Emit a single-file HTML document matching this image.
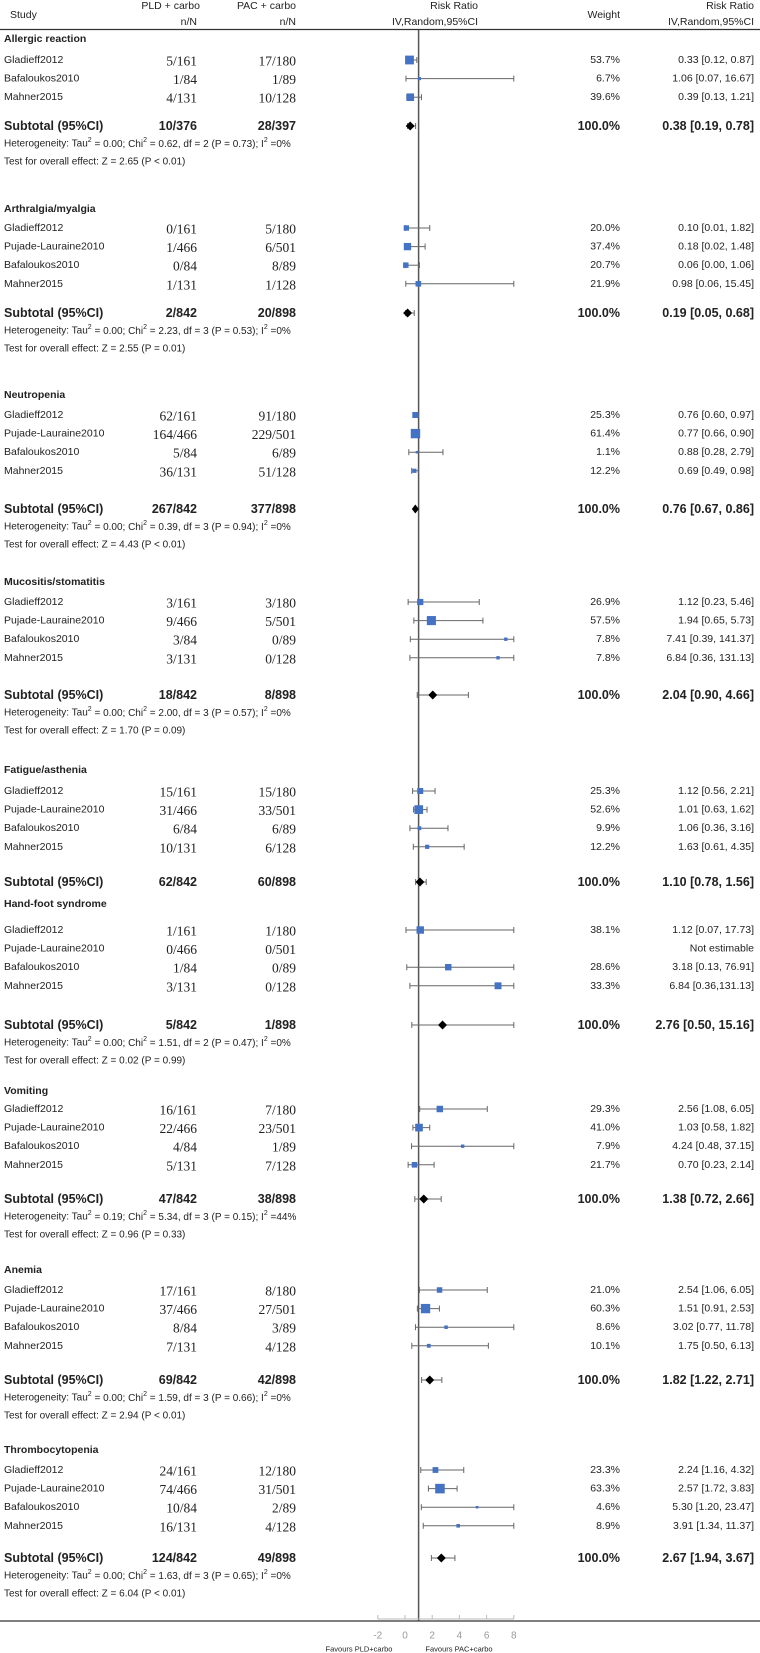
<!DOCTYPE html>
<html><head><meta charset="utf-8"><style>
html,body{margin:0;padding:0;background:#fff;}
svg{display:block;}
</style></head><body>
<svg id="plot" width="760" height="1653" xmlns="http://www.w3.org/2000/svg" font-family="Liberation Sans, Arial, sans-serif"></svg>
<script>
// ---- data ----
const groupNames = ["Allergic reaction","Arthralgia/myalgia","Neutropenia","Mucositis/stomatitis","Fatigue/asthenia","Hand-foot syndrome","Vomiting","Anemia","Thrombocytopenia"];
const studyNames = [
 ["Gladieff2012","Bafaloukos2010","Mahner2015"],
 ["Gladieff2012","Pujade-Lauraine2010","Bafaloukos2010","Mahner2015"],
 ["Gladieff2012","Pujade-Lauraine2010","Bafaloukos2010","Mahner2015"],
 ["Gladieff2012","Pujade-Lauraine2010","Bafaloukos2010","Mahner2015"],
 ["Gladieff2012","Pujade-Lauraine2010","Bafaloukos2010","Mahner2015"],
 ["Gladieff2012","Pujade-Lauraine2010","Bafaloukos2010","Mahner2015"],
 ["Gladieff2012","Pujade-Lauraine2010","Bafaloukos2010","Mahner2015"],
 ["Gladieff2012","Pujade-Lauraine2010","Bafaloukos2010","Mahner2015"],
 ["Gladieff2012","Pujade-Lauraine2010","Bafaloukos2010","Mahner2015"]];
const pldCounts = [
 ["5/161","1/84","4/131"],["0/161","1/466","0/84","1/131"],["62/161","164/466","5/84","36/131"],
 ["3/161","9/466","3/84","3/131"],["15/161","31/466","6/84","10/131"],["1/161","0/466","1/84","3/131"],
 ["16/161","22/466","4/84","5/131"],["17/161","37/466","8/84","7/131"],["24/161","74/466","10/84","16/131"]];
const pacCounts = [
 ["17/180","1/89","10/128"],["5/180","6/501","8/89","1/128"],["91/180","229/501","6/89","51/128"],
 ["3/180","5/501","0/89","0/128"],["15/180","33/501","6/89","6/128"],["1/180","0/501","0/89","0/128"],
 ["7/180","23/501","1/89","7/128"],["8/180","27/501","3/89","4/128"],["12/180","31/501","2/89","4/128"]];
const weights = [
 [53.7,6.7,39.6],[20.0,37.4,20.7,21.9],[25.3,61.4,1.1,12.2],[26.9,57.5,7.8,7.8],[25.3,52.6,9.9,12.2],
 [38.1,null,28.6,33.3],[29.3,41.0,7.9,21.7],[21.0,60.3,8.6,10.1],[23.3,63.3,4.6,8.9]];
const rr = [
 [0.33,1.06,0.39],[0.10,0.18,0.06,0.98],[0.76,0.77,0.88,0.69],[1.12,1.94,7.41,6.84],[1.12,1.01,1.06,1.63],
 [1.12,null,3.18,6.84],[2.56,1.03,4.24,0.70],[2.54,1.51,3.02,1.75],[2.24,2.57,5.30,3.91]];
const rrLo = [
 [0.12,0.07,0.13],[0.01,0.02,0.00,0.06],[0.60,0.66,0.28,0.49],[0.23,0.65,0.39,0.36],[0.56,0.63,0.36,0.61],
 [0.07,null,0.13,0.36],[1.08,0.58,0.48,0.23],[1.06,0.91,0.77,0.50],[1.16,1.72,1.20,1.34]];
const rrHi = [
 [0.87,16.67,1.21],[1.82,1.48,1.06,15.45],[0.97,0.90,2.79,0.98],[5.46,5.73,141.37,131.13],[2.21,1.62,3.16,4.35],
 [17.73,null,76.91,131.13],[6.05,1.82,37.15,2.14],[6.05,2.53,11.78,6.13],[4.32,3.83,23.47,11.37]];
const rrText = [
 ["0.33 [0.12, 0.87]","1.06 [0.07, 16.67]","0.39 [0.13, 1.21]"],
 ["0.10 [0.01, 1.82]","0.18 [0.02, 1.48]","0.06 [0.00, 1.06]","0.98 [0.06, 15.45]"],
 ["0.76 [0.60, 0.97]","0.77 [0.66, 0.90]","0.88 [0.28, 2.79]","0.69 [0.49, 0.98]"],
 ["1.12 [0.23, 5.46]","1.94 [0.65, 5.73]","7.41 [0.39, 141.37]","6.84 [0.36, 131.13]"],
 ["1.12 [0.56, 2.21]","1.01 [0.63, 1.62]","1.06 [0.36, 3.16]","1.63 [0.61, 4.35]"],
 ["1.12 [0.07, 17.73]","Not estimable","3.18 [0.13, 76.91]","6.84 [0.36,131.13]"],
 ["2.56 [1.08, 6.05]","1.03 [0.58, 1.82]","4.24 [0.48, 37.15]","0.70 [0.23, 2.14]"],
 ["2.54 [1.06, 6.05]","1.51 [0.91, 2.53]","3.02 [0.77, 11.78]","1.75 [0.50, 6.13]"],
 ["2.24 [1.16, 4.32]","2.57 [1.72, 3.83]","5.30 [1.20, 23.47]","3.91 [1.34, 11.37]"]];
const subPld = ["10/376","2/842","267/842","18/842","62/842","5/842","47/842","69/842","124/842"];
const subPac = ["28/397","20/898","377/898","8/898","60/898","1/898","38/898","42/898","49/898"];
const subRR = [0.38,0.19,0.76,2.04,1.10,2.76,1.38,1.82,2.67];
const subLo = [0.19,0.05,0.67,0.90,0.78,0.50,0.72,1.22,1.94];
const subHi = [0.78,0.68,0.86,4.66,1.56,15.16,2.66,2.71,3.67];
const subText = ["0.38 [0.19, 0.78]","0.19 [0.05, 0.68]","0.76 [0.67, 0.86]","2.04 [0.90, 4.66]","1.10 [0.78, 1.56]","2.76 [0.50, 15.16]","1.38 [0.72, 2.66]","1.82 [1.22, 2.71]","2.67 [1.94, 3.67]"];
const hetTau = ["0.00","0.00","0.00","0.00",null,"0.00","0.19","0.00","0.00"];
const hetChi = ["0.62, df = 2 (P = 0.73)","2.23, df = 3 (P = 0.53)","0.39, df = 3 (P = 0.94)","2.00, df = 3 (P = 0.57)",null,"1.51, df = 2 (P = 0.47)","5.34, df = 3 (P = 0.15)","1.59, df = 3 (P = 0.66)","1.63, df = 3 (P = 0.65)"];
const hetI2 = ["0%","0%","0%","0%",null,"0%","44%","0%","0%"];
const overallZ = ["Z = 2.65 (P < 0.01)","Z = 2.55 (P = 0.01)","Z = 4.43 (P < 0.01)","Z = 1.70 (P = 0.09)",null,"Z = 0.02 (P = 0.99)","Z = 0.96 (P = 0.33)","Z = 2.94 (P < 0.01)","Z = 6.04 (P < 0.01)"];
const axisTicks = [-2,0,2,4,6,8];

// ---- layout ----
const titleY = [39,209,395,582,770,904,1091,1270,1450];
const firstRowY = [60,228,415,602,791,930,1109,1290,1470];
const subY = [126,313,509,695,882,1025,1199,1380,1558];
const rowStep = 18.6;
const NS = "http://www.w3.org/2000/svg";
const svg = document.getElementById('plot');
const xs = v => 405 + 13.6 * v;
const clampV = v => Math.max(-2, Math.min(8, v));

function el(tag, attrs, parent) {
  const e = document.createElementNS(NS, tag);
  for (const k in attrs) e.setAttribute(k, attrs[k]);
  (parent || svg).appendChild(e);
  return e;
}
function txt(x, y, s, opts, name) {
  const t = el('text', Object.assign({x: x, y: y, 'font-size': 10.5, fill: '#222', 'dominant-baseline': 'central'}, opts || {}));
  t.textContent = s;
  
  
  return t;
}
const serif = {'font-family': 'Liberation Serif, Times New Roman, serif', 'font-size': 13.5, 'text-anchor': 'end'};

// header
txt(10, 15, 'Study', {}, 'study-header');
txt(200, 6, 'PLD + carbo', {'text-anchor': 'end'}, 'pld-header');
txt(197, 22, 'n/N', {'text-anchor': 'end'}, 'pld-nn-header');
txt(296, 6, 'PAC + carbo', {'text-anchor': 'end'}, 'pac-header');
txt(296, 22, 'n/N', {'text-anchor': 'end'}, 'pac-nn-header');
txt(478, 6, 'Risk Ratio', {'text-anchor': 'end'}, 'risk-ratio-header');
txt(478, 22, 'IV,Random,95%CI', {'text-anchor': 'end'}, 'risk-ratio-method-header');
txt(620, 15, 'Weight', {'text-anchor': 'end'}, 'weight-header');
txt(754, 6, 'Risk Ratio', {'text-anchor': 'end'}, 'rr-col-header');
txt(754, 22, 'IV,Random,95%CI', {'text-anchor': 'end'}, 'rr-col-method-header');
const hl = el('line', {x1: 0, x2: 760, y1: 29.5, y2: 29.5, stroke: '#333', 'stroke-width': 1.2});



// null line
const nl = el('line', {x1: xs(1), x2: xs(1), y1: 30, y2: 1621, stroke: '#555', 'stroke-width': 1.5});



groupNames.forEach((g, gi) => {
  const grp = el('g', {});
  
  
  txt(4, titleY[gi], g, {'font-weight': 'bold', 'font-size': 10.5}, 'subgroup-title').parentNode === svg;
  studyNames[gi].forEach((s, si) => {
    const y = firstRowY[gi] + si * rowStep;
    txt(4, y, s, {}, 'study-name');
    txt(197, y + 1, pldCounts[gi][si], serif, 'pld-count');
    txt(296, y + 1, pacCounts[gi][si], serif, 'pac-count');
    if (weights[gi][si] !== null) txt(620, y, weights[gi][si].toFixed(1) + '%', {'text-anchor': 'end'}, 'study-weight');
    txt(754, y, rrText[gi][si], {'text-anchor': 'end'}, 'study-risk-ratio');
    if (rr[gi][si] !== null) {
      const lo = xs(clampV(rrLo[gi][si])), hi = xs(clampV(rrHi[gi][si]));
      const ci = el('line', {x1: lo, x2: hi, y1: y, y2: y, stroke: '#666', 'stroke-width': 1});
      
      
      [lo, hi].forEach(cx => {
        const c = el('line', {x1: cx, x2: cx, y1: y - 3, y2: y + 3, stroke: '#666', 'stroke-width': 1});
        
        
      });
      const sz = Math.max(2.5, 1.2 * Math.sqrt(weights[gi][si]));
      const b = el('rect', {x: xs(clampV(rr[gi][si])) - sz / 2, y: y - sz / 2, width: sz, height: sz, fill: '#4472C4'});
      
      
    }
  });
  const sy = subY[gi];
  txt(4, sy, 'Subtotal (95%CI)', {'font-weight': 'bold', 'font-size': 12.5}, 'subtotal-label');
  txt(197, sy, subPld[gi], {'font-weight': 'bold', 'font-size': 12.5, 'text-anchor': 'end'}, 'subtotal-pld');
  txt(296, sy, subPac[gi], {'font-weight': 'bold', 'font-size': 12.5, 'text-anchor': 'end'}, 'subtotal-pac');
  txt(620, sy, '100.0%', {'font-weight': 'bold', 'font-size': 12.5, 'text-anchor': 'end'}, 'subtotal-weight');
  txt(754, sy, subText[gi], {'font-weight': 'bold', 'font-size': 12.5, 'text-anchor': 'end'}, 'subtotal-risk-ratio');
  const lo = xs(clampV(subLo[gi])), hi = xs(clampV(subHi[gi])), c = xs(clampV(subRR[gi]));
  if (hi - lo > 8) {
    const cl = el('line', {x1: lo, x2: hi, y1: sy, y2: sy, stroke: '#666', 'stroke-width': 1});
    
    
    [lo, hi].forEach(cx => {
      const cp = el('line', {x1: cx, x2: cx, y1: sy - 3, y2: sy + 3, stroke: '#666', 'stroke-width': 1});
      
      
    });
  }
  const dl = Math.min(c - 3.5, lo), dr = Math.max(c + 3.5, hi);
  const dw = Math.min(dr - dl, 9);
  const d = el('polygon', {points: `${c - dw / 2},${sy} ${c},${sy - 4.5} ${c + dw / 2},${sy} ${c},${sy + 4.5}`, fill: '#000'});
  
  
  if (hetTau[gi] !== null) {
    const t = txt(4, sy + 18, '', {'font-size': 10}, 'heterogeneity-text');
    t.innerHTML = `Heterogeneity: Tau<tspan font-size="7" dy="-4">2</tspan><tspan dy="4"> = ${hetTau[gi]}; Chi</tspan><tspan font-size="7" dy="-4">2</tspan><tspan dy="4"> = ${hetChi[gi]}; I</tspan><tspan font-size="7" dy="-4">2</tspan><tspan dy="4"> =${hetI2[gi]}</tspan>`;
    txt(4, sy + 36, 'Test for overall effect: ' + overallZ[gi], {'font-size': 10}, 'overall-effect-text');
  }
});

// bottom rule and axis
const br = el('line', {x1: 0, x2: 760, y1: 1621, y2: 1621, stroke: '#333', 'stroke-width': 1.2});


const ax = el('line', {x1: xs(axisTicks[0]), x2: xs(axisTicks[axisTicks.length - 1]), y1: 1619, y2: 1619, stroke: '#bbb', 'stroke-width': 1});


axisTicks.forEach(v => {
  const tk = el('line', {x1: xs(v), x2: xs(v), y1: 1615, y2: 1619, stroke: '#bbb', 'stroke-width': 1});
  
  
  txt(xs(v), 1636, String(v), {'text-anchor': 'middle', fill: '#999', 'font-size': 10}, 'x-tick-label');
});
txt(359, 1649, 'Favours PLD+carbo', {'text-anchor': 'middle', 'font-size': 7.5}, 'favours-pld-label');
txt(459, 1649, 'Favours PAC+carbo', {'text-anchor': 'middle', 'font-size': 7.5}, 'favours-pac-label');
</script>
</body></html>
